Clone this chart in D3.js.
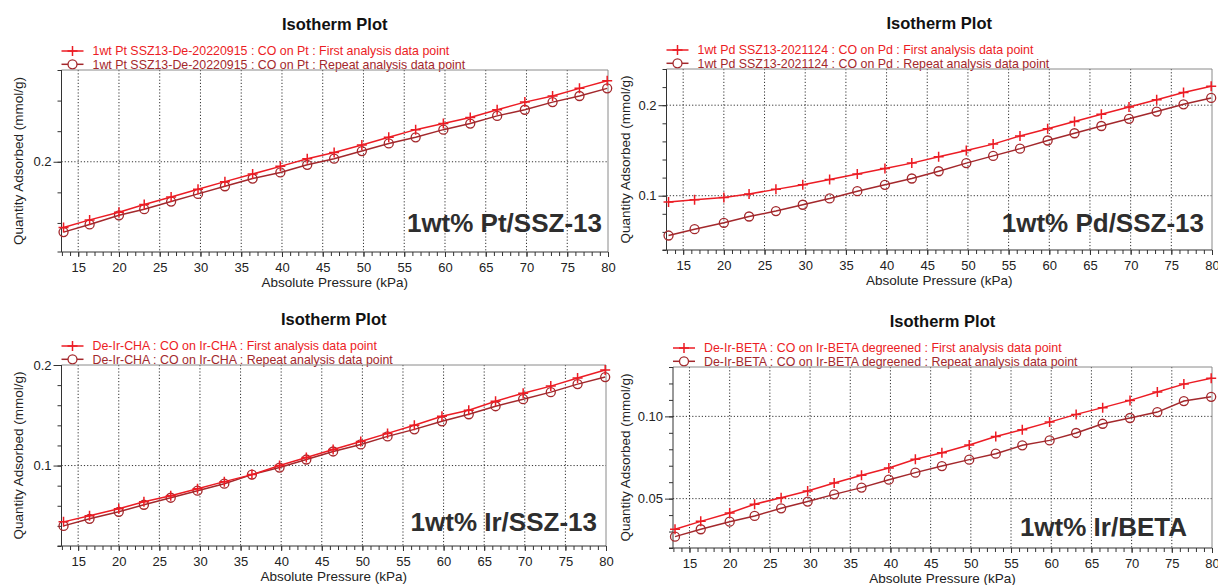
<!DOCTYPE html>
<html>
<head>
<meta charset="utf-8">
<script src="https://cdn.jsdelivr.net/npm/d3@7"></script>
<style>
  body { margin: 0; background: #fff; }
  svg text { font-family: "Liberation Sans", Arial, sans-serif; }
</style>
</head>
<body>
<div id="chart"></div>
<script>
// pressure of each analysis point (kPa), shared by all four plots
const pressure = [13.2, 16.4, 20.0, 23.1, 26.4, 29.7, 33.0, 36.4, 39.8, 43.1, 46.4,
                  49.8, 53.1, 56.4, 59.8, 63.1, 66.4, 69.8, 73.2, 76.5, 79.9]

// quantity adsorbed (mmol/g)
const ptFirst  = [0.157, 0.162, 0.167, 0.172, 0.177, 0.182, 0.187, 0.192, 0.197, 0.202, 0.206,
                  0.211, 0.216, 0.221, 0.225, 0.229, 0.234, 0.239, 0.243, 0.248, 0.253]
const ptRepeat = [0.154, 0.159, 0.165, 0.169, 0.174, 0.179, 0.184, 0.189, 0.193, 0.198, 0.202,
                  0.207, 0.212, 0.216, 0.221, 0.225, 0.230, 0.234, 0.239, 0.243, 0.248]
const pdFirst  = [0.093, 0.0956, 0.098, 0.102, 0.107, 0.112, 0.118, 0.124, 0.130, 0.136, 0.143,
                  0.150, 0.157, 0.166, 0.174, 0.182, 0.190, 0.198, 0.206, 0.214, 0.221]
const pdRepeat = [0.056, 0.063, 0.070, 0.077, 0.083, 0.090, 0.097, 0.105, 0.112, 0.119, 0.127,
                  0.136, 0.144, 0.152, 0.161, 0.169, 0.177, 0.185, 0.193, 0.201, 0.208]
const chaFirst  = [0.044, 0.050, 0.057, 0.064, 0.070, 0.077, 0.084, 0.091, 0.100, 0.108, 0.116,
                   0.124, 0.132, 0.140, 0.149, 0.155, 0.164, 0.172, 0.179, 0.187, 0.195]
const chaRepeat = [0.040, 0.047, 0.054, 0.061, 0.068, 0.075, 0.082, 0.091, 0.098, 0.106, 0.114,
                   0.121, 0.129, 0.136, 0.144, 0.151, 0.159, 0.166, 0.173, 0.181, 0.188]
const betaFirst  = [0.0314, 0.0362, 0.0413, 0.0466, 0.0506, 0.0547, 0.0595, 0.0642, 0.0686, 0.0739, 0.0779,
                    0.0826, 0.0878, 0.0919, 0.0965, 0.1012, 0.1053, 0.1097, 0.1148, 0.1196, 0.1231]
const betaRepeat = [0.0269, 0.0314, 0.0360, 0.0395, 0.0441, 0.0482, 0.0526, 0.0567, 0.0615, 0.0658, 0.0698,
                    0.0737, 0.0773, 0.0824, 0.0854, 0.0899, 0.0955, 0.0990, 0.1026, 0.1093, 0.1119]

const legendFirst = [
  "1wt Pt SSZ13-De-20220915 : CO on Pt : First analysis data point",
  "1wt Pd SSZ13-2021124 : CO on Pd : First analysis data point",
  "De-Ir-CHA : CO on Ir-CHA : First analysis data point",
  "De-Ir-BETA : CO on Ir-BETA degreened : First analysis data point"
]
const legendRepeat = [
  "1wt Pt SSZ13-De-20220915 : CO on Pt : Repeat analysis data point",
  "1wt Pd SSZ13-2021124 : CO on Pd : Repeat analysis data point",
  "De-Ir-CHA : CO on Ir-CHA : Repeat analysis data point",
  "De-Ir-BETA : CO on Ir-BETA degreened : Repeat analysis data point"
]
const sampleLabels = ["1wt% Pt/SSZ-13", "1wt% Pd/SSZ-13", "1wt% Ir/SSZ-13", "1wt% Ir/BETA"]

const xMajorTicks = [15, 20, 25, 30, 35, 40, 45, 50, 55, 60, 65, 70, 75, 80]
const yDomains = [[0.141, 0.26], [0.04, 0.24], [0.02, 0.2], [0.02, 0.13]]
const yMajorTicks = [[0.2], [0.1, 0.2], [0.1, 0.2], [0.05, 0.10]]
const yMinorStep = [0.02, 0.02, 0.02, 0.01]
const yTickFormat = [".1f", ".1f", ".1f", ".2f"]

const firstColor = "#ec1c24"
const repeatColor = "#a3282c"

// frame boxes and label offsets for the four plots
const panels = [
  {left: 61.5, right: 608, top: 70, bottom: 252, yLabelX: 18, tagDx: -6, tagDy: -20,
   first: ptFirst, repeat: ptRepeat},
  {left: 666.5, right: 1212, top: 69, bottom: 250, yLabelX: 625, tagDx: -8, tagDy: -18,
   first: pdFirst, repeat: pdRepeat},
  {left: 61.5, right: 606, top: 365, bottom: 546, yLabelX: 18, tagDx: -9, tagDy: -15,
   first: chaFirst, repeat: chaRepeat},
  {left: 673, right: 1212, top: 367, bottom: 548, yLabelX: 625, tagDx: -25, tagDy: -12,
   first: betaFirst, repeat: betaRepeat}
]

const svg = d3.select("#chart").append("svg")
    .attr("width", 1218)
    .attr("height", 585)

const plusPath = "M-5,0H5M0,-5V5"

panels.forEach((p, i) => {
    const g = svg.append("g")

    const x = d3.scaleLinear().domain([12.95, 80]).range([p.left, p.right])
    const y = d3.scaleLinear().domain(yDomains[i]).range([p.bottom, p.top])
    const midX = (p.left + p.right) / 2

    // Title
    g.append("text")
        .attr("x", midX)
        .attr("y", p.top - 40)
        .attr("text-anchor", "middle")
        .style("font-size", "16.5px")
        .style("font-weight", "bold")
        .style("fill", "#111")
        .text("Isotherm Plot")

    // Legend
    const legendRows = [
        {label: legendFirst[i], color: firstColor, sym: "plus", dy: -19},
        {label: legendRepeat[i], color: repeatColor, sym: "circle", dy: -5.7}
    ]
    legendRows.forEach(row => {
        const ly = p.top + row.dy
        g.append("line")
            .attr("x1", p.left).attr("x2", p.left + 22)
            .attr("y1", ly).attr("y2", ly)
            .attr("stroke", row.color).attr("stroke-width", 1.5)
        if (row.sym === "plus") {
            g.append("path")
                .attr("d", plusPath)
                .attr("transform", `translate(${p.left + 11},${ly})`)
                .attr("stroke", row.color).attr("stroke-width", 1.5)
        } else {
            g.append("circle")
                .attr("cx", p.left + 11).attr("cy", ly).attr("r", 4.5)
                .attr("fill", "#fff")
                .attr("stroke", row.color).attr("stroke-width", 1.3)
        }
        g.append("text")
            .attr("x", p.left + 31)
            .attr("y", ly + 4.3)
            .style("font-size", "12.4px")
            .style("fill", row.color)
            .text(row.label)
    })

    // Grid lines (dotted) at major ticks
    const grid = g.append("g")
        .attr("stroke", "#333")
        .attr("stroke-width", 1)
        .attr("stroke-dasharray", "1.2,2")
    grid.selectAll("line.gx")
        .data(xMajorTicks.filter(t => t < 80))
        .enter().append("line")
        .attr("x1", d => x(d)).attr("x2", d => x(d))
        .attr("y1", p.top).attr("y2", p.bottom)
    grid.selectAll("line.gy")
        .data(yMajorTicks[i].filter(t => y(t) > p.top + 1))
        .enter().append("line")
        .attr("x1", p.left).attr("x2", p.right)
        .attr("y1", d => y(d)).attr("y2", d => y(d))

    // Frame: top/right lighter, left/bottom axes darker
    g.append("path")
        .attr("d", `M${p.left},${p.top}H${p.right}V${p.bottom}`)
        .attr("fill", "none").attr("stroke", "#8a8a8a").attr("stroke-width", 1)

    // X axis
    const xAxis = d3.axisBottom(x)
        .tickValues(d3.range(13, 81, 1))
        .tickSize(4)
        .tickFormat("")
    const xg = g.append("g")
        .attr("transform", `translate(0,${p.bottom})`)
        .call(xAxis)
    xg.select(".domain").attr("stroke", "#333").attr("d", `M${p.left - 4},0H${p.right}`)
    xg.selectAll(".tick line").attr("stroke", "#333")

    const xLab = d3.axisBottom(x)
        .tickValues(xMajorTicks)
        .tickSize(5)
        .tickPadding(6)
        .tickFormat(d3.format("d"))
    const xlg = g.append("g")
        .attr("transform", `translate(0,${p.bottom})`)
        .call(xLab)
    xlg.select(".domain").remove()
    xlg.selectAll(".tick line").attr("stroke", "#333")
    xlg.selectAll(".tick text")
        .style("font-size", "13px")
        .style("font-family", "'Liberation Sans', Arial, sans-serif")
        .attr("fill", "#222")

    // Y axis: minor ticks then labelled ticks
    const yd = yDomains[i]
    const minor = d3.range(Math.ceil(yd[0] / yMinorStep[i] - 1e-6) * yMinorStep[i], yd[1] + 1e-9, yMinorStep[i])
    const yMinorAxis = d3.axisLeft(y)
        .tickValues(minor)
        .tickSize(4)
        .tickFormat("")
    const yg = g.append("g")
        .attr("transform", `translate(${p.left},0)`)
        .call(yMinorAxis)
    yg.select(".domain").attr("stroke", "#333").attr("d", `M0,${p.bottom}V${p.top}`)
    yg.selectAll(".tick line").attr("stroke", "#333")

    const yMajorAxis = d3.axisLeft(y)
        .tickValues(yMajorTicks[i])
        .tickSize(8)
        .tickPadding(2)
        .tickFormat(d3.format(yTickFormat[i]))
    const ymg = g.append("g")
        .attr("transform", `translate(${p.left},0)`)
        .call(yMajorAxis)
    ymg.select(".domain").remove()
    ymg.selectAll(".tick line").attr("stroke", "#333")
    ymg.selectAll(".tick text")
        .style("font-size", "13px")
        .style("font-family", "'Liberation Sans', Arial, sans-serif")
        .attr("fill", "#222")

    // Axis titles
    g.append("text")
        .attr("x", midX)
        .attr("y", p.bottom + 35)
        .attr("text-anchor", "middle")
        .style("font-size", "13.5px")
        .style("fill", "#222")
        .text("Absolute Pressure (kPa)")

    g.append("text")
        .attr("transform", `translate(${p.yLabelX},${(p.top + p.bottom) / 2}) rotate(-90)`)
        .attr("text-anchor", "middle")
        .attr("dy", "0.35em")
        .style("font-size", "13.5px")
        .style("fill", "#222")
        .text("Quantity Adsorbed (mmol/g)")

    // Sample tag
    g.append("text")
        .attr("x", p.right + p.tagDx)
        .attr("y", p.bottom + p.tagDy)
        .attr("text-anchor", "end")
        .style("font-size", "26px")
        .style("font-weight", "bold")
        .style("fill", "#2e2e2e")
        .text(sampleLabels[i])

    // Series
    const line = d3.line()
        .x((d, k) => x(pressure[k]))
        .y(d => y(d))

    g.append("path")
        .datum(p.repeat)
        .attr("fill", "none")
        .attr("stroke", repeatColor)
        .attr("stroke-width", 1.5)
        .attr("d", line)
    g.append("g").selectAll("circle")
        .data(p.repeat)
        .enter().append("circle")
        .attr("cx", (d, k) => x(pressure[k]))
        .attr("cy", d => y(d))
        .attr("r", 4.5)
        .attr("fill", "none")
        .attr("stroke", repeatColor)
        .attr("stroke-width", 1.3)

    g.append("path")
        .datum(p.first)
        .attr("fill", "none")
        .attr("stroke", firstColor)
        .attr("stroke-width", 1.5)
        .attr("d", line)
    g.append("g").selectAll("path")
        .data(p.first)
        .enter().append("path")
        .attr("d", plusPath)
        .attr("transform", (d, k) => `translate(${x(pressure[k])},${y(d)})`)
        .attr("stroke", firstColor)
        .attr("stroke-width", 1.5)
})
</script>
</body>
</html>
